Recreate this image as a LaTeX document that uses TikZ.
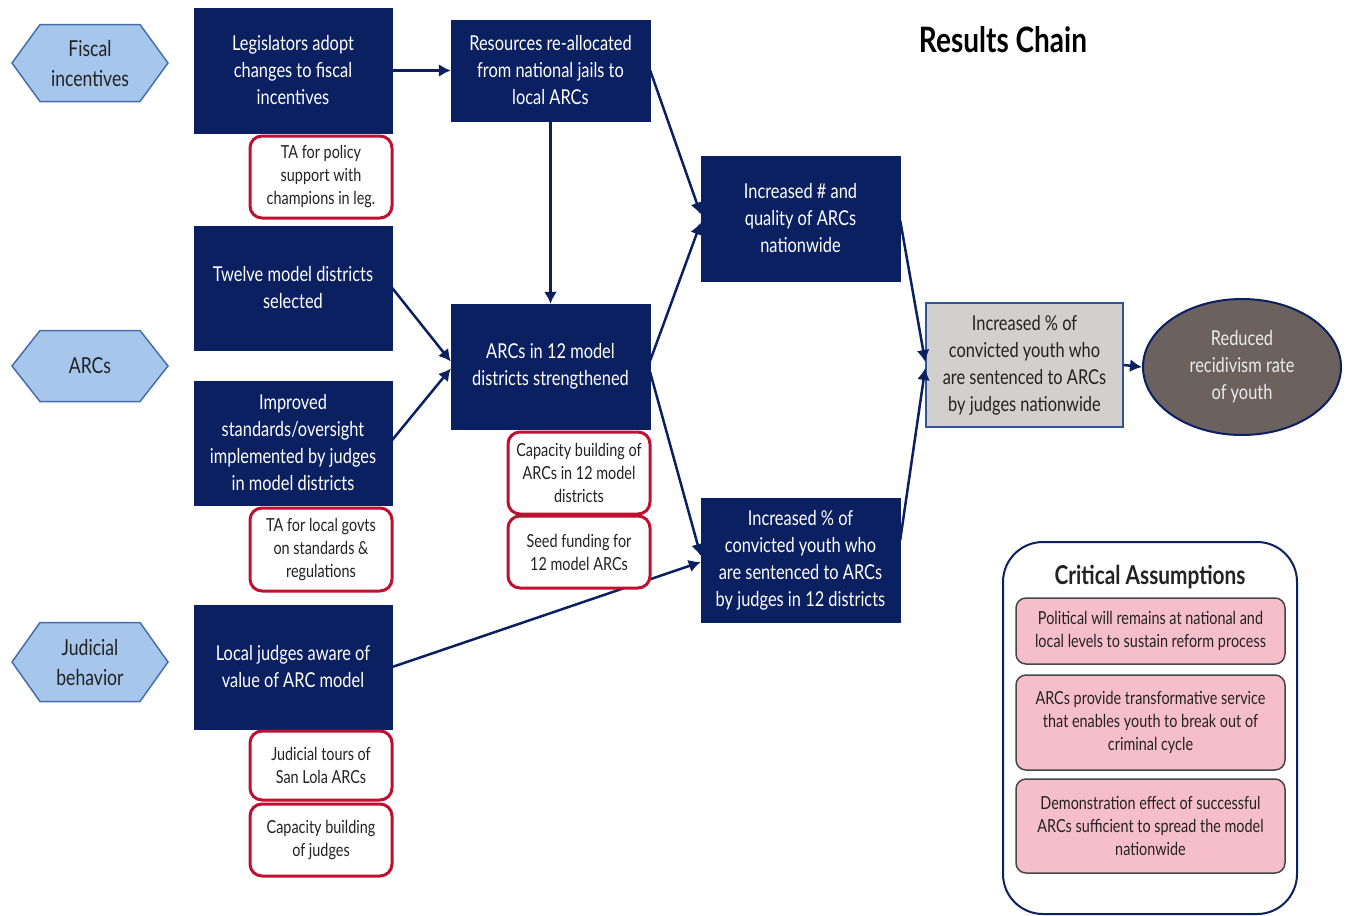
\documentclass[tikz,border=0pt]{standalone}
\usepackage{fontspec}
\setmainfont{Lato}[FakeStretch=0.8]
\usetikzlibrary{arrows.meta,calc,shapes.geometric}
\definecolor{navy}{RGB}{10,32,96}
\definecolor{hexfill}{RGB}{166,198,236}
\definecolor{hexline}{RGB}{70,110,170}
\definecolor{redline}{RGB}{192,16,48}
\definecolor{grayfill}{RGB}{210,208,207}
\definecolor{grayline}{RGB}{47,85,151}
\definecolor{ovalfill}{RGB}{107,97,94}
\definecolor{pinkfill}{RGB}{246,190,203}
\definecolor{pinkline}{RGB}{70,70,70}
\definecolor{txt}{RGB}{34,34,34}
\begin{document}
\begin{tikzpicture}[x=1pt,y=-1pt,
  darkbox/.style={fill=navy,draw=navy,text=white,minimum width=198,inner sep=0,align=center,font=\fontsize{20.5}{27}\selectfont},
  redbox/.style={fill=white,draw=redline,line width=3,rounded corners=12,minimum width=142,inner sep=0,align=center,text=txt,font=\fontsize{18}{23}\selectfont},
  hexbox/.style={fill=hexfill,draw=hexline,line width=1.5},
  hextext/.style={align=center,text=txt,font=\fontsize{22}{30}\selectfont},
  pinkbox/.style={fill=pinkfill,draw=pinkline,line width=1.5,rounded corners=10,minimum width=269,inner sep=0,align=center,text=txt,font=\fontsize{18}{23}\selectfont},
  arr/.style={draw=navy,line width=2.5,-{Latex[length=12,width=13]}}]
\useasboundingbox (0,0) rectangle (1350,916);

% hexagons
\draw[hexbox] (12,63) -- (40,24.5) -- (140,24.5) -- (168,63) -- (140,101.5) -- (40,101.5) -- cycle;
\node[hextext] (h1) at (90,63) {Fiscal\\incentives};
\draw[hexbox] (12,366) -- (40,330.5) -- (140,330.5) -- (168,366) -- (140,401.5) -- (40,401.5) -- cycle;
\node[hextext] (h2) at (90,366) {ARCs};
\draw[hexbox] (12,662) -- (40,622.5) -- (140,622.5) -- (168,662) -- (140,701.5) -- (40,701.5) -- cycle;
\node[hextext] (h3) at (90,662) {Judicial\\behavior};

% dark boxes
\node[darkbox,minimum height=125] (B1) at (293,70.5) {Legislators adopt\\changes to fiscal\\incentives};
\node[darkbox,minimum height=101,minimum width=199] (B2) at (550.5,70.5) {Resources re-allocated\\from national jails to\\local ARCs};
\node[darkbox,minimum height=124] (B3) at (293,288) {Twelve model districts\\selected};
\node[darkbox,minimum height=124] (B4) at (293,443) {Improved\\standards/oversight\\implemented by judges\\in model districts};
\node[darkbox,minimum height=125,minimum width=199] (B5) at (550.5,366.5) {ARCs in 12 model\\districts strengthened};
\node[darkbox,minimum height=124] (B6) at (293,667) {Local judges aware of\\value of ARC model};
\node[darkbox,minimum height=125,minimum width=199] (B7) at (800.5,218.5) {Increased \# and\\quality of ARCs\\nationwide};
\node[darkbox,minimum height=124,minimum width=199] (B8) at (800.5,560) {Increased \% of\\convicted youth who\\are sentenced to ARCs\\by judges in 12 districts};
\node[fill=grayfill,draw=grayline,line width=1.5,minimum width=197,minimum height=124,inner sep=0,align=center,text=txt,font=\fontsize{20.5}{27}\selectfont] (G) at (1024.5,365) {Increased \% of\\convicted youth who\\are sentenced to ARCs\\by judges nationwide};
\node[ellipse,fill=ovalfill,draw=navy,line width=2,minimum width=198,minimum height=136,inner sep=0,align=center,text=white!92!black,font=\fontsize{20.5}{27}\selectfont] (O) at (1242,367) {Reduced\\recidivism rate\\of youth};

% arrows
\draw[arr] (B1.east) -- (B2.west);
\draw[arr] (B2.south) -- (B5.north);
\draw[arr] (B2.east) -- ($(B7.west)+(0,-4)$);
\draw[arr] ($(B5.east)+(0,-6)$) -- ($(B7.west)+(0,4)$);
\draw[arr] (B3.east) -- ($(B5.west)+(0,-5)$);
\draw[arr] ($(B4.east)+(0,-3)$) -- ($(B5.west)+(0,2)$);
\draw[arr] ($(B5.east)+(0,6)$) -- ($(B8.west)+(0,-4)$);
\draw[arr] (B6.east) -- ($(B8.west)+(0,2)$);
\draw[arr] ($(B7.east)+(0,2)$) -- ($(G.west)+(0,-3)$);
\draw[arr] ($(B8.east)+(0,-20)$) -- ($(G.west)+(0,3)$);
\draw[arr] (G.east) -- (O.west);

% red boxes
\node[redbox,minimum height=82] (R1) at (321,177) {TA for policy\\support with\\champions in leg.};
\node[redbox,minimum height=83] (R2) at (321,549.5) {TA for local govts\\on standards \&\\regulations};
\node[redbox,minimum height=82] (R3) at (579,473) {Capacity building of\\ARCs in 12 model\\districts};
\node[redbox,minimum height=72] (R4) at (579,552) {Seed funding for\\12 model ARCs};
\node[redbox,minimum height=69] (R5) at (321,765.5) {Judicial tours of\\San Lola ARCs};
\node[redbox,minimum height=72] (R6) at (321,840) {Capacity building\\of judges};

% title
\node[font=\bfseries\fontsize{35}{40}\selectfont,text=black] (T) at (1003,40) {Results Chain};

% critical assumptions
\node[draw=navy,line width=2,rounded corners=40,minimum width=294,minimum height=372,inner sep=0] (CA) at (1150,728) {};
\node[font=\bfseries\fontsize{26}{30}\selectfont,text=txt] (CAt) at (1150,577) {Critical Assumptions};
\node[pinkbox,minimum height=66] (P1) at (1150.5,631) {Political will remains at national and\\local levels to sustain reform process};
\node[pinkbox,minimum height=95] (P2) at (1150.5,722.5) {ARCs provide transformative service\\that enables youth to break out of\\criminal cycle};
\node[pinkbox,minimum height=94] (P3) at (1150.5,826) {Demonstration effect of successful\\ARCs sufficient to spread the model\\nationwide};
\end{tikzpicture}
\end{document}
